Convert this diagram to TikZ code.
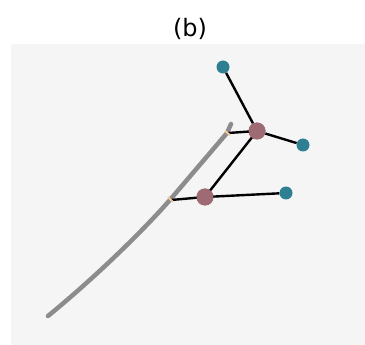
\documentclass[tikz,border=0pt]{standalone}
\usepackage{fontspec}
\setmainfont{DejaVu Sans}
\definecolor{bgc}{HTML}{F5F5F5}
\definecolor{stem}{HTML}{8C8C8C}
\definecolor{maroon}{HTML}{9E6B74}
\definecolor{tealc}{HTML}{2E7F91}
\definecolor{tan}{HTML}{F3C99C}
\tikzset{
  joint/.style={circle,fill=maroon,inner sep=0pt,minimum size=17pt},
  tip/.style={circle,fill=tealc,inner sep=0pt,minimum size=13pt},
  bone/.style={draw=black,line width=2.4pt},
  tanmark/.style={draw=tan,line width=2pt}
}
\begin{document}
\begin{tikzpicture}[x=1pt,y=-1pt]
\useasboundingbox (0,0) rectangle (365,345);
\fill[bgc] (11,44) rectangle (365,345);
\node[font=\fontsize{24}{28}\selectfont] (title) at (190,29) {(b)};
% stem
\coordinate (s0) at (48,316);
\coordinate (s1) at (169,201);
\coordinate (s2) at (227,133);
\coordinate (s3) at (231,124);
\draw[stem,line width=4.5pt,line cap=round] (s0) .. controls (92,280) and (140,234) .. (s1) -- (s2) -- (s3);
% nodes
\node[tip] (t1) at (223,67) {};
\node[tip] (t2) at (303,145) {};
\node[tip] (t3) at (286,193) {};
\coordinate (a1) at (228,133);
\coordinate (a2) at (171,200);
\node[joint] (j1) at (257,131) {};
\node[joint] (j2) at (205,197) {};
\draw[bone] (j1) -- (t1);
\draw[bone] (j1) -- (t2);
\draw[bone] (j1.center) -- (a1);
\draw[bone] (j1.center) -- (j2.center);
\draw[bone] (j2.center) -- (t3);
\draw[bone] (j2.center) -- (a2);
\node[joint] at (j1) {};
\node[joint] at (j2) {};
\draw[tanmark] (a1) ++(-3,-2) -- ++(5,4);
\draw[tanmark] (a2) ++(-3,-3) -- ++(5,5);
\end{tikzpicture}
\end{document}
